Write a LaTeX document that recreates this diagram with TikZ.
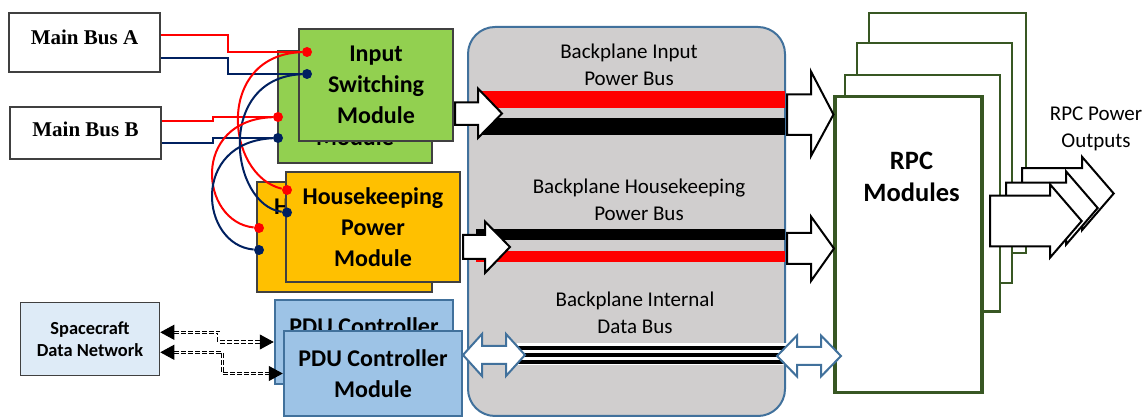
\documentclass[tikz,border=0pt]{standalone}
\usepackage{fontspec}
\setmainfont{Carlito}
\newfontfamily\busfont{Liberation Serif}
\usetikzlibrary{arrows.meta}

\definecolor{ismgreen}{HTML}{92D050}
\definecolor{hkorange}{HTML}{FFC000}
\definecolor{pdublue}{HTML}{9DC3E6}
\definecolor{steel}{HTML}{41719C}
\definecolor{sdnblue}{HTML}{DEEBF7}
\definecolor{plate}{HTML}{D0CECE}
\definecolor{rpcgreen}{HTML}{385723}
\definecolor{navy}{HTML}{002060}
\definecolor{edge}{HTML}{404040}

\tikzset{
  busbox/.style={shape=rectangle,draw=edge,fill=white,line width=0.75pt,minimum width=75.5pt},
  bustext/.style={font=\busfont\bfseries\fontsize{10.5}{12}\selectfont},
  modbox/.style={shape=rectangle,draw=edge,line width=0.75pt,align=center,font=\bfseries\fontsize{12}{15.4}\selectfont},
  pdubox/.style={shape=rectangle,draw=steel,fill=pdublue,line width=1.25pt,align=center,minimum width=89pt,font=\bfseries\fontsize{12}{15.4}\selectfont},
  planetext/.style={align=center,font=\fontsize{10.5}{13.4}\selectfont},
  rpcback/.style={shape=rectangle,draw=rpcgreen,fill=white,line width=1.1pt},
  reddot/.style={shape=circle,fill=red,inner sep=0pt,minimum size=5pt},
  bluedot/.style={shape=circle,fill=navy,inner sep=0pt,minimum size=5pt},
  redwire/.style={draw=red,line width=1pt},
  bluewire/.style={draw=navy,line width=1pt},
  blockarrow/.style={draw=black,fill=white,line width=1pt,line join=miter},
  dataarrow/.style={draw=steel,fill=white,line width=1pt,line join=miter},
  datalink/.style={draw=black,double=white,double distance=0.75pt,line width=0.45pt,dash pattern=on 2.5pt off 1pt,{Triangle[length=7pt,width=7.5pt]}-{Triangle[length=7pt,width=7.5pt]}}
}

\begin{document}
\begin{tikzpicture}[x=0.5pt,y=0.5pt]
\useasboundingbox (0,0) rectangle (1146,417);

\node[shape=rectangle,rounded corners=13.5pt,draw=steel,fill=plate,line width=1pt,minimum width=158.5pt,minimum height=194.5pt] (plane) at (626.5,195.5) {};
\node[planetext] (tinput) at (629,352) {Backplane Input\\Power Bus};
\node[planetext] (thk) at (639,217) {Backplane Housekeeping\\Power Bus};
\node[planetext] (tdata) at (635,104) {Backplane Internal\\Data Bus};

\fill[red] (480,308.7) rectangle (785,326.3);
\fill[black] (480,282) rectangle (785,299.3);
\fill[black] (476,177) rectangle (785,187.7);
\fill[red] (476,154.7) rectangle (785,166.3);
\fill[white] (517,52) rectangle (787,74);
\draw[line width=1.6pt] (517,69) -- (787,69);
\draw[line width=1.6pt] (517,62) -- (787,62);
\draw[line width=1.6pt] (517,55) -- (787,55);

\node[rpcback,minimum width=78.5pt,minimum height=120pt] (rpc3) at (947.5,283.7) {};
\node[rpcback,minimum width=77.5pt,minimum height=120pt] (rpc2) at (934.5,253.7) {};
\node[rpcback,minimum width=77.5pt,minimum height=118.3pt] (rpc1) at (922.5,223.7) {};
\node[rpcback,line width=1.75pt,minimum width=73.5pt,minimum height=148pt] (rpc) at (908.5,172.3) {};
\node[align=center,font=\bfseries\fontsize{13.25}{16.3}\selectfont] (rpclabel) at (911.5,240) {RPC\\Modules};
\node[planetext,font=\fontsize{10.5}{13.85}\selectfont] (outlabel) at (1096,288.2) {RPC Power\\Outputs};

\draw[blockarrow] (455,292) -- (478,292) -- (478,279) -- (502,303.5) -- (478,328.5) -- (478,314.5) -- (455,314.5) -- cycle;
\draw[blockarrow] (463,158) -- (485,158) -- (485,144) -- (510,170) -- (485,195.5) -- (485,182) -- (463,182) -- cycle;
\draw[blockarrow] (787,282) -- (811,282) -- (811,261) -- (833.5,302.5) -- (811,345.5) -- (811,322.5) -- (787,322.5) -- cycle;
\draw[blockarrow] (787,153) -- (811,153) -- (811,136) -- (834,168.5) -- (811,200.5) -- (811,184) -- (787,184) -- cycle;
\draw[dataarrow] (463,62) -- (482,83) -- (482,71) -- (506,71) -- (506,83) -- (525,62) -- (506,41) -- (506,53) -- (482,53) -- (482,41) -- cycle;
\draw[dataarrow] (777,61) -- (797,81.5) -- (797,70) -- (821,70) -- (821,81.5) -- (841,61) -- (821,40.5) -- (821,52) -- (797,52) -- (797,40.5) -- cycle;

\draw[blockarrow,shift={(32,27.5)}] (990,170.7) -- (1050,170.7) -- (1050,159.3) -- (1081.7,196) -- (1050,232.7) -- (1050,221.3) -- (990,221.3) -- cycle;
\draw[blockarrow,shift={(16,13)}] (990,170.7) -- (1050,170.7) -- (1050,159.3) -- (1081.7,196) -- (1050,232.7) -- (1050,221.3) -- (990,221.3) -- cycle;
\draw[blockarrow] (990,170.7) -- (1050,170.7) -- (1050,159.3) -- (1081.7,196) -- (1050,232.7) -- (1050,221.3) -- (990,221.3) -- cycle;

\node[busbox,minimum height=29.5pt] (busA) at (84.5,374.5) {};
\node[bustext] (busAtext) at (84.5,380) {Main Bus A};
\node[busbox,minimum height=26pt] (busB) at (85.5,284) {};
\node[bustext] (busBtext) at (85.5,288) {Main Bus B};

\node[modbox,fill=ismgreen,minimum width=77pt,minimum height=56pt] (ismback) at (355,310) {Input\\Switching\\Module};
\node[modbox,fill=ismgreen,minimum width=77pt,minimum height=56pt] (ism) at (376,332) {Input\\Switching\\Module};
\node[modbox,fill=hkorange,minimum width=87.5pt,minimum height=55pt] (hkback) at (344.5,180) {Housekeeping\\Power\\Module};
\node[modbox,fill=hkorange,minimum width=87pt,minimum height=55pt] (hk) at (373,190) {Housekeeping\\Power\\Module};
\node[pdubox,minimum height=42pt] (pduback) at (364,75) {PDU Controller\\Module};
\node[pdubox,minimum height=42.5pt] (pdu) at (373,43.5) {PDU Controller\\Module};

\node[shape=rectangle,draw=edge,fill=sdnblue,line width=0.75pt,minimum width=69.5pt,minimum height=36.5pt,align=center,font=\bfseries\fontsize{9.2}{10.85}\selectfont] (sdn) at (90,78) {Spacecraft\\Data Network};

\node[reddot] (isr) at (307,365) {};
\node[bluedot] (isb) at (307,343) {};
\node[reddot] (ibr) at (278,300) {};
\node[bluedot] (ibb) at (278,279) {};
\node[reddot] (hfr) at (287,227) {};
\node[bluedot] (hfb) at (287,204.5) {};
\node[reddot] (hbr) at (259,189) {};
\node[bluedot] (hbb) at (259,167) {};

\draw[redwire] ([yshift=3.75pt]busA.east) -- ++(67,0) |- (isr);
\draw[bluewire] ([yshift=-7.6pt]busA.east) -- ++(67,0) |- (isb);
\draw[redwire] ([yshift=6pt]busB.east) -- ++(51,0) |- (ibr);
\draw[bluewire] ([yshift=-5pt]busB.east) -- ++(51,0) |- (ibb);
\draw[redwire] (isr) .. controls (215,362) and (225,242) .. (hfr);
\draw[bluewire] (isb) .. controls (215,339) and (230,212) .. (hfb);
\draw[redwire] (ibr) .. controls (190,297) and (200,195) .. (hbr);
\draw[bluewire] (ibb) .. controls (190,275) and (200,172) .. (hbb);

\draw[datalink] ([yshift=3.35pt]sdn.east) -- ++(58.5,0) |- (pduback.west);
\draw[datalink] ([yshift=-6.65pt]sdn.east) -- ++(62,0) |- (pdu.west);
\end{tikzpicture}
\end{document}
